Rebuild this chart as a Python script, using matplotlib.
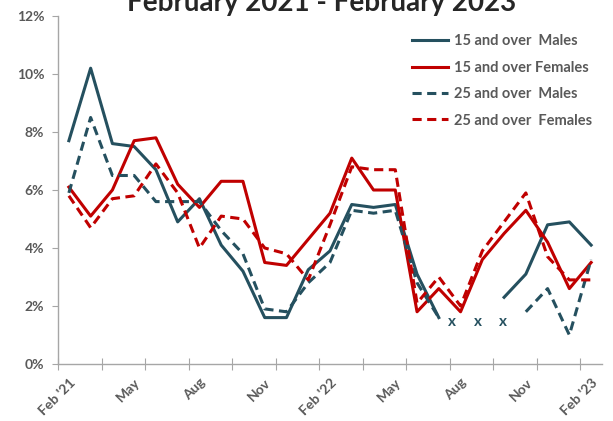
import matplotlib.pyplot as plt
import numpy as np

# месяцы: февраль 2021 - февраль 2023
months = list(range(25))
tick_labels = ["Feb '21", "May", "Aug", "Nov", "Feb '22", "May", "Aug", "Nov", "Feb '23"]

nan = np.nan
males15 = [7.7, 10.2, 7.6, 7.5, 6.7, 4.9, 5.7, 4.1, 3.2, 1.6, 1.6, 3.25, 3.9,
           5.5, 5.4, 5.5, 3.1, 1.6, nan, nan, 2.3, 3.1, 4.8, 4.9, 4.1]
females15 = [6.1, 5.1, 6.0, 7.7, 7.8, 6.2, 5.4, 6.3, 6.3, 3.5, 3.4, 4.3, 5.2,
             7.1, 6.0, 6.0, 1.8, 2.6, 1.8, 3.6, 4.5, 5.3, 4.2, 2.6, 3.5]
males25 = [5.9, 8.5, 6.5, 6.5, 5.6, 5.6, 5.6, 4.6, 3.8, 1.9, 1.8, 2.8, 3.5,
           5.3, 5.2, 5.3, 2.8, 1.6, nan, nan, nan, 1.8, 2.6, 1.0, 3.6]
females25 = [5.8, 4.7, 5.7, 5.8, 6.9, 5.9, 4.0, 5.1, 5.0, 4.0, 3.8, 2.9, 4.8,
             6.8, 6.7, 6.7, 2.1, 3.0, 2.0, 3.9, 4.9, 5.9, 3.7, 2.9, 2.9]

# подавленные значения, отмеченные "x"
x_marks = [17.6, 18.8, 19.95]
x_level = 1.45

teal = '#25505F'
red = '#C00000'
gray = '#595959'

plt.rcParams['font.family'] = ['Lato', 'DejaVu Sans']

fig = plt.figure(figsize=(6.13, 4.21), dpi=100)
ax = fig.add_axes([58 / 613, 1 - 364 / 421, 544 / 613, 348 / 421])

ax.plot(months, males15, color=teal, lw=2.2, label='15 and over  Males')
ax.plot(months, females15, color=red, lw=2.2, label='15 and over Females')
ax.plot(months, males25, color=teal, lw=2.2, dashes=(3, 1.8), label='25 and over  Males')
ax.plot(months, females25, color=red, lw=2.2, dashes=(3, 1.8), label='25 and over  Females')

for xm in x_marks:
    ax.text(xm, x_level, 'x', color=teal, fontsize=11, fontweight='bold',
            ha='center', va='center')

ax.set_xlim(-0.5, 24.5)
ax.set_ylim(0, 12)

# деления между категориями через каждые 2 месяца
ax.set_xticks(np.arange(-0.5, 24, 2))
ax.set_xticklabels([])
ax.tick_params(axis='x', which='major', direction='inout', length=8, color='#A6A6A6')
ax.set_xticks(months[::3], minor=True)
ax.set_xticklabels(tick_labels, minor=True, rotation=45, ha='right',
                   rotation_mode='anchor', fontsize=10, fontweight='bold', color=gray)
ax.tick_params(axis='x', which='minor', length=0, pad=9)

ax.set_yticks(np.arange(0, 13, 2))
ax.set_yticklabels([f'{v}%' for v in range(0, 13, 2)], fontsize=10,
                   fontweight='bold', color=gray)
ax.tick_params(axis='y', direction='out', length=4, color='#A6A6A6', pad=6)

for s in ['top', 'right']:
    ax.spines[s].set_visible(False)
for s in ['left', 'bottom']:
    ax.spines[s].set_color('#A6A6A6')
    ax.spines[s].set_linewidth(1)

leg = ax.legend(loc='upper right', bbox_to_anchor=(1.006, 0.985), frameon=False,
                handlelength=2.5, handletextpad=0.4, labelspacing=0.85,
                prop={'size': 10.5, 'weight': 'bold'})
for t in leg.get_texts():
    t.set_color(gray)

fig.text(0.525, 1 - 11 / 421, 'February 2021 - February 2023', ha='center',
         va='baseline', fontsize=20, fontweight='bold', color='#262626')

fig.savefig('out.png', dpi=100)
